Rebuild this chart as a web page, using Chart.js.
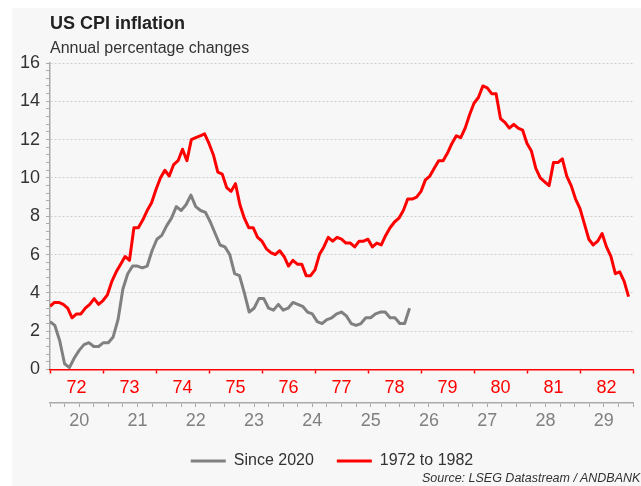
<!DOCTYPE html>
<html>
<head>
<meta charset="utf-8">
<script src="https://cdn.jsdelivr.net/npm/chart.js@4/dist/chart.umd.min.js"></script>
<style>
  html, body { margin: 0; padding: 0; background: #ffffff; }
  #wrap { position: relative; width: 641px; height: 486px; overflow: hidden; font-family: 'Liberation Sans', Arial, sans-serif; }
  #panel { position: absolute; left: 12px; top: 8px; width: 629px; height: 478px; background: #f7f7f7; }
  canvas { position: absolute; left: 0; top: 0; }
  .txt { position: absolute; white-space: nowrap; }
  #title { left: 50px; top: 14px; font-size: 18px; line-height: 18px; font-weight: bold; color: #222; }
  #subtitle { left: 50px; top: 39.5px; font-size: 16px; line-height: 16px; color: #333; }
  #source { left: 422px; top: 472px; font-size: 12.5px; line-height: 13px; font-style: italic; color: #333; }
</style>
</head>
<body>
<div id="wrap">
  <div id="panel"></div>
  <canvas id="c" width="641" height="486"></canvas>
  <div class="txt" id="title">US CPI inflation</div>
  <div class="txt" id="subtitle">Annual percentage changes</div>
  <div class="txt" id="source">Source: LSEG Datastream / ANDBANK</div>
</div>
<script>
// Monthly annual % change, Jan 1972 - Dec 1982
const cpi1972to1982 = [
  3.3, 3.5, 3.5, 3.4, 3.2, 2.7, 2.9, 2.9, 3.2, 3.4, 3.7, 3.4,
  3.6, 3.9, 4.6, 5.1, 5.5, 5.9, 5.7, 7.4, 7.4, 7.8, 8.3, 8.7,
  9.4, 10.0, 10.4, 10.1, 10.7, 10.9, 11.5, 10.9, 12.0, 12.1, 12.2, 12.3,
  11.8, 11.2, 10.3, 10.2, 9.5, 9.3, 9.7, 8.6, 7.9, 7.4, 7.4, 6.9,
  6.7, 6.3, 6.1, 6.0, 6.2, 5.9, 5.4, 5.7, 5.5, 5.5, 4.9, 4.9,
  5.2, 6.0, 6.4, 6.9, 6.7, 6.9, 6.8, 6.6, 6.6, 6.4, 6.7, 6.7,
  6.8, 6.4, 6.6, 6.5, 7.0, 7.4, 7.7, 7.9, 8.3, 8.9, 8.9, 9.0,
  9.3, 9.9, 10.1, 10.5, 10.9, 10.9, 11.3, 11.8, 12.2, 12.1, 12.6, 13.3,
  13.9, 14.2, 14.8, 14.7, 14.4, 14.4, 13.1, 12.9, 12.6, 12.8, 12.6, 12.5,
  11.8, 11.4, 10.5, 10.0, 9.8, 9.6, 10.8, 10.8, 11.0, 10.1, 9.6, 8.9,
  8.4, 7.6, 6.8, 6.5, 6.7, 7.1, 6.4, 5.9, 5.0, 5.1, 4.6, 3.8
];
// Monthly annual % change, Jan 2020 onwards
const cpiSince2020 = [
  2.5, 2.3, 1.5, 0.3, 0.1, 0.6, 1.0, 1.3, 1.4, 1.2, 1.2, 1.4,
  1.4, 1.7, 2.6, 4.2, 5.0, 5.4, 5.4, 5.3, 5.4, 6.2, 6.8, 7.0,
  7.5, 7.9, 8.5, 8.3, 8.6, 9.1, 8.5, 8.3, 8.2, 7.7, 7.1, 6.5,
  6.4, 6.0, 5.0, 4.9, 4.0, 3.0, 3.2, 3.7, 3.7, 3.2, 3.1, 3.4,
  3.1, 3.2, 3.5, 3.4, 3.3, 3.0, 2.9, 2.5, 2.4, 2.6, 2.7, 2.9,
  3.0, 2.8, 2.4, 2.3, 2.4, 2.7, 2.7, 2.9, 3.0, 3.0, 2.7, 2.7,
  2.4, 2.4, 3.2
];
const yearLabels1970s = ['72', '73', '74', '75', '76', '77', '78', '79', '80', '81', '82'];
const yearLabels2020s = ['20', '21', '22', '23', '24', '25', '26', '27', '28', '29'];
const seriesNames = ['Since 2020', '1972 to 1982'];
const yTickLabels = ['0', '2', '4', '6', '8', '10', '12', '14', '16'];

const RED = '#ff0000';
const GREY = '#808080';
Chart.defaults.font.family = "'Liberation Sans', Arial, sans-serif";

const toPoints = arr => arr.map((v, i) => ({ x: i, y: v }));

// Shift the legend block so it is centred like the original (offset from the y-axis labels)
const legendShift = {
  id: 'legendShift',
  afterLayout(chart) {
    if (chart.legend) { chart.legend.left = 31; }
  }
};

new Chart(document.getElementById('c'), {
  type: 'line',
  data: {
    datasets: [
      { label: seriesNames[0], data: toPoints(cpiSince2020), xAxisID: 'xg', yAxisID: 'y',
        borderColor: GREY, backgroundColor: GREY, borderWidth: 3, pointRadius: 0, tension: 0,
        borderJoinStyle: 'round' },
      { label: seriesNames[1], data: toPoints(cpi1972to1982), xAxisID: 'xr', yAxisID: 'y',
        borderColor: RED, backgroundColor: RED, borderWidth: 3, pointRadius: 0, tension: 0,
        borderJoinStyle: 'round' }
    ]
  },
  plugins: [legendShift],
  options: {
    responsive: false,
    animation: false,
    devicePixelRatio: 1,
    layout: { padding: { left: 0, right: 8, top: 63, bottom: 16 } },
    plugins: {
      title: { display: false },
      tooltip: { enabled: false },
      legend: {
        display: true,
        position: 'bottom',
        maxHeight: 40,
        labels: {
          usePointStyle: true,
          pointStyle: 'line',
          pointStyleWidth: 35,
          boxHeight: 16,
          padding: 23,
          color: '#333',
          font: { size: 16 }
        }
      }
    },
    scales: {
      y: {
        type: 'linear',
        position: 'left',
        min: 0, max: 16,
        afterBuildTicks: s => { const t = []; for (let i = 0; i <= 40; i++) t.push({ value: Math.round(i * 4) / 10 }); s.ticks = t; },
        afterFit: s => { s.width = 50; },
        ticks: {
          autoSkip: false,
          padding: 6,
          color: '#333',
          font: { size: 18 },
          callback: v => { const r = Math.round(v); return (Math.abs(v - r) < 1e-6 && r % 2 === 0) ? yTickLabels[r / 2] : ''; }
        },
        grid: {
          drawOnChartArea: true,
          color: c => { const v = c.tick ? c.tick.value : 0; const r = Math.round(v); return (Math.abs(v - r) < 1e-6 && r % 2 === 0 && r > 0) ? '#cfcfcf' : 'transparent'; },
          lineWidth: 1,
          tickLength: 4,
          tickColor: '#aaaaaa',
          tickWidth: 1
        },
        border: { display: true, color: '#aaaaaa', width: 1.5, dash: [2, 2] }
      },
      xr: {
        type: 'linear',
        position: 'bottom',
        weight: 0,
        min: 0, max: 132,
        afterBuildTicks: s => { const t = []; for (let v = 0; v <= 132; v += 6) t.push({ value: v }); s.ticks = t; },
        afterFit: s => { s.height = 33.5; },
        ticks: {
          autoSkip: false, maxRotation: 0, minRotation: 0,
          padding: 4,
          color: RED,
          font: { size: 18 },
          callback: v => (v % 12 === 6) ? yearLabels1970s[(v - 6) / 12] : ''
        },
        grid: {
          drawOnChartArea: false,
          tickLength: 4,
          tickWidth: 1.5,
          tickColor: c => (c.tick && c.tick.value % 12 === 0) ? RED : 'transparent'
        },
        border: { display: true, color: RED, width: 1.5 }
      },
      xg: {
        type: 'linear',
        position: 'bottom',
        weight: 1,
        min: 0, max: 120,
        afterBuildTicks: s => { const t = []; for (let v = 0; v <= 120; v += 3) t.push({ value: v }); s.ticks = t; },
        afterFit: s => { s.height = 27; },
        ticks: {
          autoSkip: false, maxRotation: 0, minRotation: 0,
          padding: 3,
          color: GREY,
          font: { size: 18 },
          callback: v => (v % 12 === 6) ? yearLabels2020s[(v - 6) / 12] : ''
        },
        grid: {
          drawOnChartArea: false,
          tickLength: 4,
          tickWidth: 1,
          tickColor: '#aaaaaa'
        },
        border: { display: true, color: '#aaaaaa', width: 1.5 }
      }
    }
  }
});
</script>
</body>
</html>
